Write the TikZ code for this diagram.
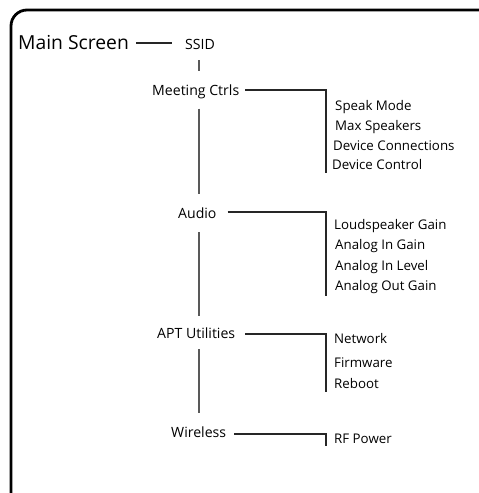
\documentclass[tikz,border=0pt]{standalone}
\usepackage{fontspec}
\setmainfont{Open Sans}
\begin{document}
\begin{tikzpicture}[x=1pt,y=-1pt,
  lbl/.style={anchor=base west,inner sep=0pt,font=\fontsize{14.1}{16}\selectfont},
  big/.style={anchor=base west,inner sep=0pt,font=\fontsize{19.3}{22}\selectfont},
  item/.style={anchor=base west,inner sep=0pt,font=\fontsize{13.3}{15}\selectfont},
  conn/.style={line width=1.1pt,draw=black!85},
  trunk/.style={line width=1.8pt,draw=black!65}]
\useasboundingbox (0,0) rectangle (479,493);
\begin{scope}
\clip (0,0) rectangle (479,493);
\draw[line width=2.8pt,rounded corners=16pt] (11,500) -- (11,10) -- (495,10) -- (495,500);
\end{scope}
% main column
\node[big] (ms) at (18,49) {Main Screen};
\node[lbl] (ssid) at (185,49) {SSID};
\node[lbl] (mc) at (152,95) {Meeting Ctrls};
\node[lbl] (au) at (178,218) {Audio};
\node[lbl] (apt) at (157,338) {APT Utilities};
\node[lbl] (wl) at (171,437) {Wireless};
% meeting items
\node[item] (sm) at (335,110) {Speak Mode};
\node[item] (mx) at (335,130) {Max Speakers};
\node[item] (dc) at (333,150) {Device Connections};
\node[item] (dctl) at (332,169) {Device Control};
% audio items
\node[item] (lg) at (334,229) {Loudspeaker Gain};
\node[item] (aig) at (335,249) {Analog In Gain};
\node[item] (ail) at (335,270) {Analog In Level};
\node[item] (aog) at (335,290) {Analog Out Gain};
% apt items
\node[item] (nw) at (334,343) {Network};
\node[item] (fw) at (334,367) {Firmware};
\node[item] (rb) at (334,388) {Reboot};
% wireless items
\node[item] (rf) at (334,443) {RF Power};
% bracket coordinates
\coordinate (b1t) at (326,90);  \coordinate (b1b) at (326,173);
\coordinate (b2t) at (326,212); \coordinate (b2b) at (326,296);
\coordinate (b3t) at (326,334); \coordinate (b3b) at (326,392);
\coordinate (b4t) at (326,434); \coordinate (b4b) at (326,446);
% connectors
\draw[conn] ([xshift=7pt]ms.east |- 0,43) -- ([xshift=-13pt]ssid.west |- 0,43);
\draw[conn] ([xshift=6pt]mc.east |- b1t) -- (b1t) -- (b1b);
\draw[conn] ([xshift=11pt]au.east |- b2t) -- (b2t) -- (b2b);
\draw[conn] ([xshift=10pt]apt.east |- b3t) -- (b3t) -- (b3b);
\draw[conn] ([xshift=8pt]wl.east |- b4t) -- (b4t) -- (b4b);
% trunk
\draw[trunk] ([yshift=-11pt]ssid.south -| 199,0) -- ([yshift=13pt]mc.north -| 199,0);
\draw[trunk] ([yshift=-10pt]mc.south -| 199,0) -- ([yshift=13pt]au.north -| 199,0);
\draw[trunk] ([yshift=-14pt]au.south -| 199,0) -- ([yshift=11pt]apt.north -| 199,0);
\draw[trunk] ([yshift=-11pt]apt.south -| 199,0) -- ([yshift=13pt]wl.north -| 199,0);
\end{tikzpicture}
\end{document}
